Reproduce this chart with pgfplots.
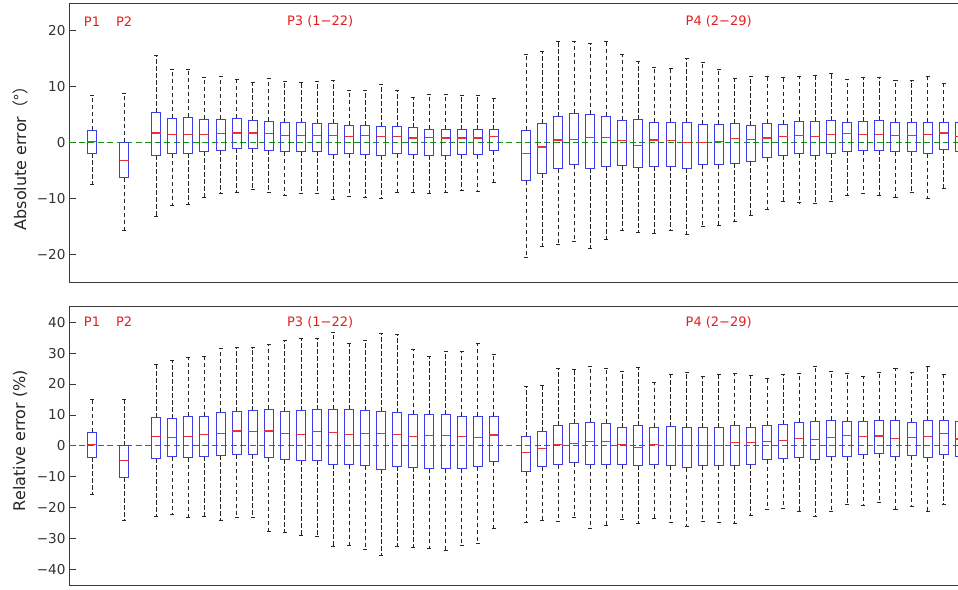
\documentclass[border=0pt]{standalone}
\usepackage{pgfplots}
\pgfplotsset{compat=1.18}
\usepackage{pgfplotstable}
\usepgfplotslibrary{statistics}
\usepackage{fontspec}
\setmainfont{DejaVu Sans}
\newfontfamily\cjk{Noto Sans CJK JP}

\definecolor{boxblue}{RGB}{60,60,232}
\definecolor{medred}{RGB}{235,50,50}
\definecolor{zerogreen}{RGB}{20,145,20}
\definecolor{labred}{RGB}{228,30,30}
\definecolor{axgray}{RGB}{60,60,60}

% ---------------- absolute error (deg) ----------------
\pgfplotstableread{
lw    lq    med   uq   uw
-7.5  -1.9  0.15  2.2  8.4
-15.7 -6.3  -3.2  0.0  8.8
}\absA
\pgfplotstableread{
lw    lq    med   uq   uw
-13.2 -2.3  1.7   5.3  15.7
-11.3 -2.0  1.4   4.3  13.1
-11.1 -1.9  1.45  4.5  13.1
-9.9  -1.6  1.5   4.2  11.7
-9.1  -1.4  1.6   4.2  11.9
-8.9  -1.0  1.7   4.3  11.3
-8.4  -1.0  1.7   3.9  10.8
-8.9  -1.4  1.6   3.8  11.5
-9.5  -1.7  1.3   3.5  10.9
-9.1  -1.6  1.2   3.5  10.8
-9.1  -1.6  1.3   3.4  10.9
-10.2 -2.1  1.3   3.4  11.2
-9.6  -2.0  1.1   3.1  9.4
-9.8  -2.1  1.2   3.0  9.4
-10.0 -2.3  1.0   2.8  10.4
-9.0  -2.0  1.0   2.8  9.35
-8.9  -2.1  0.8   2.6  8.1
-9.2  -2.3  0.85  2.4  8.7
-8.9  -2.3  0.8   2.4  8.6
-8.6  -2.1  0.8   2.3  8.4
-8.8  -2.2  0.8   2.3  8.5
-7.2  -1.5  1.0   2.3  7.9
}\absB
\pgfplotstableread{
lw    lq    med   uq   uw
-20.5 -6.9  -1.9  2.2  15.8
-18.6 -5.5  -0.8  3.4  16.4
-18.3 -4.7  0.45  4.6  18.1
-17.7 -4.0  0.6   5.2  18.1
-18.9 -4.6  0.9   5.1  17.7
-17.4 -4.3  0.85  4.7  18.1
-15.7 -4.1  0.4   4.0  15.8
-16.1 -4.4  -0.5  4.1  14.5
-16.2 -4.3  0.45  3.6  13.4
-15.7 -4.3  0.3   3.6  13.2
-16.4 -4.6  0.0   3.5  15.0
-15.1 -4.0  0.0   3.3  14.3
-14.9 -4.0  0.1   3.3  13.1
-14.2 -3.7  0.7   3.4  11.5
-13.0 -3.4  0.5   3.0  11.9
-11.9 -2.7  0.8   3.45 11.8
-10.6 -2.3  1.0   3.3  11.7
-10.8 -2.0  1.3   3.8  11.8
-10.9 -2.3  1.1   3.75 12.0
-10.6 -1.9  1.4   3.9  12.4
-9.4  -1.6  1.6   3.6  11.4
-9.2  -1.5  1.5   3.75 11.6
-9.4  -1.4  1.5   3.9  11.7
-9.8  -1.7  1.3   3.6  11.2
-9.0  -1.6  1.3   3.5  11.1
-10.1 -2.0  1.4   3.6  11.8
-8.2  -1.2  1.7   3.6  10.65
-9.5  -1.6  1.15  3.6  10.9
}\absC

% ---------------- relative error (%) ----------------
\pgfplotstableread{
lw    lq    med   uq   uw
-15.7 -3.7  0.3   4.4  15.1
-24.1 -10.2 -4.8  0.0  15.1
}\relA
\pgfplotstableread{
lw    lq    med   uq   uw
-22.7 -4.0  3.1   9.1  26.5
-22.0 -3.6  2.8   8.8  27.5
-23.1 -3.9  3.1   9.6  28.7
-22.7 -3.3  3.6   9.5  29.0
-24.0 -3.1  3.85  10.9 31.6
-23.1 -2.8  4.8   11.1 31.8
-23.2 -2.7  4.7   11.3 31.8
-27.6 -3.9  4.8   11.9 32.7
-28.0 -4.4  4.0   11.0 34.0
-29.0 -4.7  3.7   11.3 34.8
-29.2 -4.6  4.5   11.7 34.8
-32.6 -6.0  4.3   11.9 36.7
-32.3 -6.1  3.7   11.6 33.3
-33.4 -6.4  4.1   11.4 34.0
-35.3 -7.5  3.85  11.0 36.4
-32.4 -6.6  3.6   10.7 36.0
-32.8 -7.0  2.9   10.2 31.1
-33.0 -7.4  3.3   10.1 28.9
-33.7 -7.4  3.3   10.1 30.7
-32.3 -7.4  3.1   9.5  30.6
-31.7 -6.8  2.8   9.6  33.0
-26.8 -5.2  3.5   9.5  29.6
}\relB
\pgfplotstableread{
lw    lq    med   uq   uw
-24.9 -8.4  -2.2  2.9  19.3
-24.1 -6.8  -1.0  4.6  19.4
-24.4 -6.1  0.4   6.5  25.1
-23.1 -5.5  0.9   7.2  24.6
-26.6 -6.1  1.4   7.6  25.8
-25.6 -6.1  1.3   7.3  25.0
-23.9 -6.1  0.5   5.9  24.0
-25.2 -6.3  -0.6  6.5  25.5
-23.6 -6.1  0.5   6.0  20.6
-24.9 -6.5  0.2   6.1  23.1
-26.1 -7.1  0.0   5.9  23.9
-24.5 -6.4  0.0   5.9  22.5
-24.7 -6.5  0.1   5.9  23.2
-25.2 -6.2  1.2   6.7  23.3
-22.5 -6.0  1.0   5.8  22.8
-20.5 -4.5  1.4   6.7  21.9
-20.3 -4.1  1.7   6.8  23.0
-21.1 -3.7  2.5   7.6  23.4
-22.7 -4.3  2.1   8.0  25.8
-21.1 -3.5  2.8   8.3  24.2
-18.9 -3.3  3.3   7.9  23.4
-19.1 -2.9  3.1   7.9  22.5
-18.4 -2.6  3.2   8.2  23.9
-20.6 -3.6  2.5   8.3  25.0
-19.5 -3.2  2.8   7.7  23.7
-21.2 -3.9  3.0   8.1  25.8
-18.9 -2.7  4.0   8.2  23.1
-20.3 -3.5  2.2   8.0  25.0
}\relC

\pgfplotsset{
  errbox/.style={
    draw=boxblue, solid, line width=1pt,
    boxplot/draw direction=y,
    boxplot/box extend=0.56,
    boxplot/whisker extend=0.25,
    boxplot/every box/.style={draw=boxblue, solid, line width=1pt},
    boxplot/every whisker/.style={draw=black!85, line width=0.75pt, dash pattern=on 4.5pt off 2.5pt},
    boxplot/every median/.style={draw=medred, solid, line width=1.1pt},
  },
  errpanel/.style={
    scale only axis,
    width=898.8pt,
    anchor=south west,
    xmin=-0.431, xmax=55.5,
    xtick=\empty,
    ytick pos=left,
    tick align=inside,
    major tick length=7pt,
    axis line style={axgray, line width=0.9pt},
    every tick/.style={axgray, line width=0.8pt},
    tick label style={font=\fontsize{13.6}{16}\selectfont, text=black!80},
    every axis y label/.style={rotate=90, anchor=center, font=\fontsize{16}{19}\selectfont, text=black!85},
    clip=true,
  },
  zeroline/.style={zerogreen, line width=1pt, dash pattern=on 6pt off 3.5pt},
}
\tikzset{plabel/.style={text=labred, font=\fontsize{13}{15}\selectfont}}

% one box per table row, drawn at the given x position
\newcommand\boxrow[3]{%
  \pgfplotstablegetelem{#2}{lw}\of{#1}\let\vlw\pgfplotsretval
  \pgfplotstablegetelem{#2}{lq}\of{#1}\let\vlq\pgfplotsretval
  \pgfplotstablegetelem{#2}{med}\of{#1}\let\vmed\pgfplotsretval
  \pgfplotstablegetelem{#2}{uq}\of{#1}\let\vuq\pgfplotsretval
  \pgfplotstablegetelem{#2}{uw}\of{#1}\let\vuw\pgfplotsretval
  \pgfmathsetmacro\vpos{#3}%
  \edef\doplot{\noexpand\addplot[errbox, boxplot prepared={draw position=\vpos,
      lower whisker=\vlw, lower quartile=\vlq, median=\vmed,
      upper quartile=\vuq, upper whisker=\vuw}] coordinates {};}%
  \doplot
}

\begin{document}
\begin{tikzpicture}
\useasboundingbox (0,0) rectangle (958pt,589pt);

% ---------- absolute error ----------
\begin{axis}[errpanel,
  at={(69pt,307pt)}, height=279pt,
  ymin=-25, ymax=25,
  ytick={-20,-10,0,10,20},
  yticklabels={−20,−10,0,10,20},
  ylabel={Absolute error{\cjk（°）}},
  every axis y label/.append style={at={(axis description cs:-0.0545,0.457)}},
]
\addplot[zeroline] coordinates {(-1,0) (57,0)};
\boxrow{\absA}{0}{1}
\boxrow{\absA}{1}{3}
\pgfplotsinvokeforeach{0,...,21}{\boxrow{\absB}{#1}{5+#1}}
\pgfplotsinvokeforeach{0,...,27}{\boxrow{\absC}{#1}{28+#1}}
\node[plabel] at (axis cs:1,21.7) {P1};
\node[plabel] at (axis cs:3,21.7) {P2};
\node[plabel] at (axis cs:15.2,21.7) {P3 (1−22)};
\node[plabel] at (axis cs:40,21.7) {P4 (2−29)};
\end{axis}

% ---------- relative error ----------
\begin{axis}[errpanel,
  at={(69pt,4pt)}, height=278.3pt,
  ymin=-45, ymax=45,
  ytick={-40,-30,-20,-10,0,10,20,30,40},
  yticklabels={−40,−30,−20,−10,0,10,20,30,40},
  ylabel={Relative error (\%)},
  every axis y label/.append style={at={(axis description cs:-0.0545,0.519)}},
]
\addplot[zeroline] coordinates {(-1,0) (57,0)};
\boxrow{\relA}{0}{1}
\boxrow{\relA}{1}{3}
\pgfplotsinvokeforeach{0,...,21}{\boxrow{\relB}{#1}{5+#1}}
\pgfplotsinvokeforeach{0,...,27}{\boxrow{\relC}{#1}{28+#1}}
\node[plabel] at (axis cs:1,40) {P1};
\node[plabel] at (axis cs:3,40) {P2};
\node[plabel] at (axis cs:15.2,40) {P3 (1−22)};
\node[plabel] at (axis cs:40,40) {P4 (2−29)};
\end{axis}
\end{tikzpicture}
\end{document}
